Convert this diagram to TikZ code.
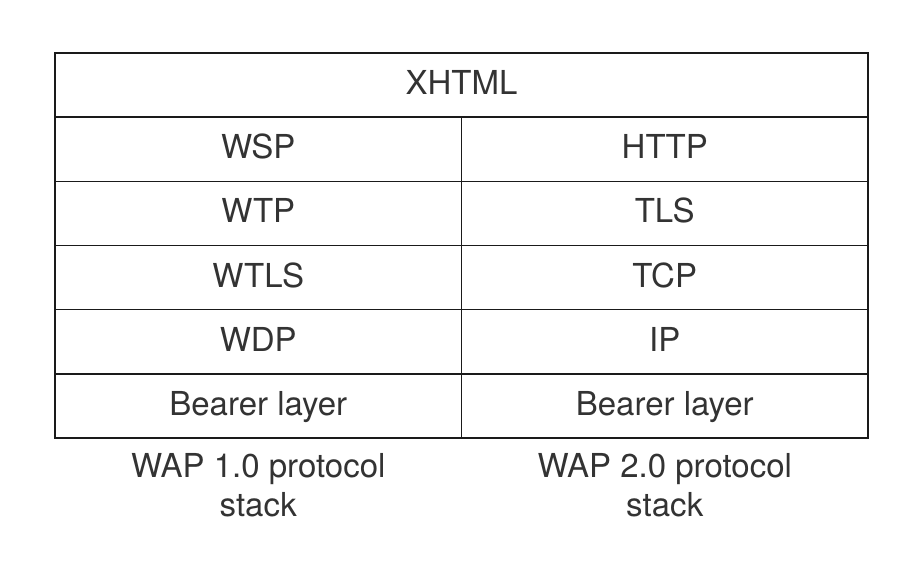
\documentclass[tikz,border=0pt]{standalone}
\usepackage{fontspec}
\setmainfont{TeX Gyre Heros}
\definecolor{gridline}{HTML}{1A1A1A}
\definecolor{labeltext}{HTML}{333333}
\begin{document}
\begin{tikzpicture}[x=1bp,y=-1bp,
  layer/.style={draw=gridline, line width=1.6bp, inner sep=0pt, outer sep=0pt,
    minimum height=64.17bp, text=labeltext,
    font=\fontsize{33bp}{38bp}\selectfont, text height=27.5bp, text depth=8.5bp},
  halfcell/.style={layer, minimum width=406.5bp},
  fullcell/.style={layer, minimum width=813bp},
  caption/.style={align=center, text=labeltext, inner sep=0pt,
    font=\fontsize{33bp}{39bp}\selectfont}]
  % page area
  \useasboundingbox[fill=white] (0,0) rectangle (924,581);
  % shared top layer
  \node[fullcell] (xhtml) at (461.5,85.08) {XHTML};
  % WAP 1.0 stack (left column)
  \node[halfcell] (wsp)   at (258.25,149.25) {WSP};
  \node[halfcell] (wtp)   at (258.25,213.42) {WTP};
  \node[halfcell] (wtls)  at (258.25,277.58) {WTLS};
  \node[halfcell] (wdp)   at (258.25,341.75) {WDP};
  \node[halfcell] (bear1) at (258.25,405.92) {Bearer layer};
  % WAP 2.0 stack (right column)
  \node[halfcell] (http)  at (664.75,149.25) {HTTP};
  \node[halfcell] (tls)   at (664.75,213.42) {TLS};
  \node[halfcell] (tcp)   at (664.75,277.58) {TCP};
  \node[halfcell] (ip)    at (664.75,341.75) {IP};
  \node[halfcell] (bear2) at (664.75,405.92) {Bearer layer};
  % heavier outer frame
  \draw[gridline, line width=2.2bp] (xhtml.north west) rectangle (bear2.south east);
  % column captions (base anchor sits on the last line)
  \node[caption, anchor=base] (cap1) at (258.25,516) {WAP 1.0 protocol\\stack};
  \node[caption, anchor=base] (cap2) at (664.75,516) {WAP 2.0 protocol\\stack};
\end{tikzpicture}
\end{document}
